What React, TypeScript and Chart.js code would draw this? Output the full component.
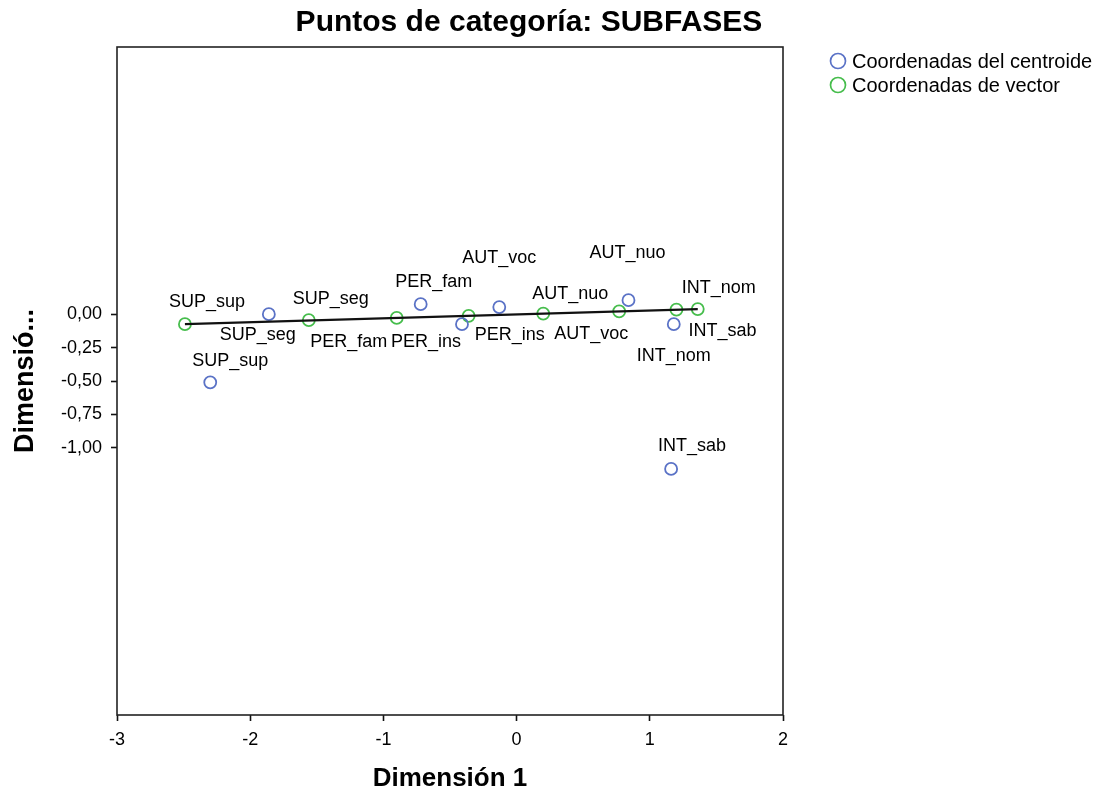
import React, { useEffect, useRef } from "react";
import { Chart, registerables } from "chart.js";

Chart.register(...registerables);

// Category labels shared by both series
const categories = ["SUP_sup", "SUP_seg", "PER_fam", "PER_ins", "AUT_voc", "AUT_nuo", "INT_nom", "INT_sab"];

// Centroid coordinates (Dimensión 1, Dimensión 2)
const centroidX = [-2.30, -1.86, -0.72, -0.41, -0.13, 0.84, 1.18, 1.16];
const centroidY = [-0.51, 0.00, 0.075, -0.075, 0.053, 0.105, -0.075, -1.158];

// Vector coordinates (Dimensión 1, Dimensión 2)
const vectorX = [-2.49, -1.56, -0.90, -0.36, 0.20, 0.77, 1.36, 1.20];
const vectorY = [-0.075, -0.045, -0.028, -0.012, 0.004, 0.021, 0.038, 0.034];

// Tick values
const xTicks = [-3, -2, -1, 0, 1, 2];
const yTicks = [-1, -0.75, -0.5, -0.25, 0];

// Label placement relative to each point (pixels): [dx, dy]
const centroidLabelOffsets = [[20, -21], [-11, 21], [13, -22], [-36, 18], [0, -49], [-1, -47], [0, 32], [21, -23]];
const vectorLabelOffsets = [[22, -22], [22, -21], [-48, 24], [41, 19], [48, 20], [-49, -17], [21, -21], [46, 21]];

const FONT = "'Liberation Sans', Arial, sans-serif";
const BLUE = "#5a72c6";
const GREEN = "#46bd4c";

export default function App() {
  const canvasRef = useRef<HTMLCanvasElement | null>(null);

  useEffect(() => {
    const canvas = canvasRef.current;
    if (!canvas) return;

    const centroidPts = categories.map((_, i) => ({ x: centroidX[i], y: centroidY[i] }));
    const vectorPts = categories.map((_, i) => ({ x: vectorX[i], y: vectorY[i] }));
    const sortedVec = [...vectorPts].sort((a, b) => a.x - b.x);
    const linePts = [sortedVec[0], sortedVec[sortedVec.length - 1]];

    const decorations = {
      id: "decorations",
      afterDatasetsDraw(chart: any) {
        const ctx = chart.ctx as CanvasRenderingContext2D;
        const area = chart.chartArea;

        // point labels
        ctx.save();
        ctx.fillStyle = "#000";
        ctx.font = `18px ${FONT}`;
        ctx.textAlign = "center";
        ctx.textBaseline = "middle";
        const drawLabels = (dsIndex: number, offsets: number[][]) => {
          const meta = chart.getDatasetMeta(dsIndex);
          meta.data.forEach((el: any, i: number) => {
            const [dx, dy] = offsets[i];
            ctx.fillText(categories[i], el.x + dx, el.y + dy);
          });
        };
        drawLabels(1, centroidLabelOffsets);
        drawLabels(2, vectorLabelOffsets);
        ctx.restore();

        // plot frame
        ctx.save();
        ctx.strokeStyle = "#222";
        ctx.lineWidth = 1.6;
        ctx.strokeRect(area.left, area.top, area.right - area.left, area.bottom - area.top);
        ctx.restore();

        // title
        ctx.save();
        ctx.fillStyle = "#000";
        ctx.textAlign = "center";
        ctx.textBaseline = "middle";
        ctx.font = `bold 30px ${FONT}`;
        ctx.fillText("Puntos de categoría: SUBFASES", 529, 23);

        // axis titles
        ctx.font = `bold 26px ${FONT}`;
        ctx.fillText("Dimensión 1", (area.left + area.right) / 2, 779);
        ctx.font = `bold 27px ${FONT}`;
        ctx.translate(26, (area.top + area.bottom) / 2);
        ctx.rotate(-Math.PI / 2);
        ctx.fillText("Dimensió...", 0, 0);
        ctx.restore();

        // legend
        ctx.save();
        ctx.font = `20px ${FONT}`;
        ctx.textAlign = "left";
        ctx.textBaseline = "middle";
        ctx.lineWidth = 1.7;
        const legend = [
          { color: BLUE, text: "Coordenadas del centroide", y: 61 },
          { color: GREEN, text: "Coordenadas de vector", y: 85 },
        ];
        legend.forEach((l) => {
          ctx.strokeStyle = l.color;
          ctx.beginPath();
          ctx.arc(838, l.y, 7.5, 0, Math.PI * 2);
          ctx.stroke();
          ctx.fillStyle = "#000";
          ctx.fillText(l.text, 852, l.y + 1);
        });
        ctx.restore();
      },
    };

    const chart = new Chart(canvas, {
      type: "scatter",
      data: {
        datasets: [
          {
            type: "line",
            label: "vector",
            data: linePts,
            borderColor: "#111",
            borderWidth: 2.2,
            pointRadius: 0,
            fill: false,
          },
          {
            label: "Coordenadas del centroide",
            data: centroidPts,
            borderColor: BLUE,
            backgroundColor: "rgba(0,0,0,0)",
            pointRadius: 6,
            pointBorderWidth: 1.8,
          },
          {
            label: "Coordenadas de vector",
            data: vectorPts,
            borderColor: GREEN,
            backgroundColor: "rgba(0,0,0,0)",
            pointRadius: 6,
            pointBorderWidth: 1.8,
          },
        ],
      } as any,
      options: {
        responsive: false,
        animation: false,
        events: [],
        layout: { padding: { top: 47, right: 326, left: 0, bottom: 0 } },
        plugins: {
          legend: { display: false },
          title: { display: false },
          tooltip: { enabled: false },
        },
        scales: {
          x: {
            type: "linear",
            min: -3,
            max: 2,
            afterBuildTicks: (s: any) => {
              s.ticks = xTicks.map((v) => ({ value: v }));
            },
            afterFit: (s: any) => {
              s.height = 85;
            },
            ticks: {
              color: "#000",
              font: { family: FONT, size: 18 },
              padding: 8,
              callback: (v: any) => String(v),
            },
            grid: {
              drawOnChartArea: false,
              drawTicks: true,
              tickLength: 6,
              tickColor: "#111",
              tickWidth: 1.6,
            },
            border: { display: false },
          },
          y: {
            type: "linear",
            min: -3,
            max: 2,
            afterBuildTicks: (s: any) => {
              s.ticks = yTicks.map((v) => ({ value: v }));
            },
            afterFit: (s: any) => {
              s.width = 117;
            },
            ticks: {
              color: "#000",
              font: { family: FONT, size: 18 },
              padding: 9,
              callback: (v: any) => Number(v).toFixed(2).replace(".", ","),
            },
            grid: {
              drawOnChartArea: false,
              drawTicks: true,
              tickLength: 6,
              tickColor: "#111",
              tickWidth: 1.6,
            },
            border: { display: false },
          },
        },
      } as any,
      plugins: [decorations],
    });

    return () => chart.destroy();
  }, []);

  return (
    <div style={{ position: "absolute", left: 0, top: 0, width: 1109, height: 800, background: "#fff" }}>
      <canvas ref={canvasRef} width={1109} height={800} style={{ display: "block" }} />
    </div>
  );
}
